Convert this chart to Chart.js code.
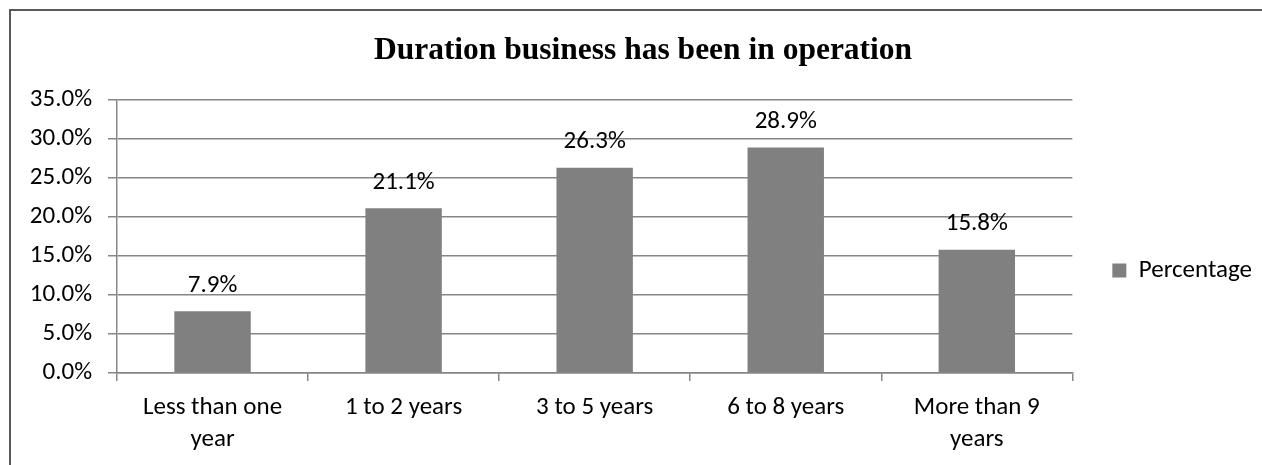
<!DOCTYPE html>
<html>
<head>
<meta charset="utf-8">
<script src="https://cdn.jsdelivr.net/npm/chart.js@4"></script>
<style>
    html, body { margin: 0; padding: 0; background: #fff; overflow: hidden; }
    #wrap { position: relative; width: 1262px; height: 465px; }
    #frame { position: absolute; left: 9px; top: 9px; width: 1300px; height: 600px; border: 2px solid #595959; pointer-events: none; }
</style>
</head>
<body>
<div id="wrap">
    <canvas id="myChart" width="1262" height="465"></canvas>
    <div id="frame"></div>
</div>
<script>
const chartTitle = 'Duration business has been in operation';
const seriesName = 'Percentage';
const categories = [['Less than one', 'year'], '1 to 2 years', '3 to 5 years', '6 to 8 years', ['More than 9', 'years']];
const percentages = [7.9, 21.1, 26.3, 28.9, 15.8];
const yMin = 0;
const yMax = 35;
const yStep = 5;

const textFont = { family: 'Carlito, Calibri, Lato, sans-serif', size: 25 };
const gridColor = '#868686';
const barColor = '#808080';

function pct(v) {
    return v.toFixed(1) + '%'
}

// value labels above every bar
const barLabels = {
    id: 'barLabels',
    afterDatasetsDraw(chart) {
        const ctx = chart.ctx;
        const meta = chart.getDatasetMeta(0);
        ctx.save();
        ctx.font = textFont.size + 'px ' + textFont.family;
        ctx.fillStyle = '#000';
        ctx.textAlign = 'center';
        ctx.textBaseline = 'middle';
        meta.data.forEach((bar, i) => {
            ctx.fillText(pct(percentages[i]), bar.x, bar.y - 26);
        });
        ctx.restore();
    }
};

// excel puts the legend a bit below the middle
const legendShift = {
    id: 'legendShift',
    afterLayout(chart) {
        chart.legend.top += 38;
        chart.legend.bottom += 38;
    }
};

Chart.defaults.font.family = textFont.family;
Chart.defaults.color = '#000';

var canvas = document.getElementById('myChart');
var myChart = new Chart(canvas, {
    type: 'bar',
    data: {
        labels: categories,
        datasets: [{
            label: seriesName,
            data: percentages,
            backgroundColor: barColor,
            borderWidth: 0,
            categoryPercentage: 1.0,
            barPercentage: 0.4
        }]
    },
    options: {
        responsive: false,
        animation: false,
        events: [],
        layout: { padding: { left: 24, right: 0, top: 0, bottom: 0 } },
        plugins: {
            title: {
                display: true,
                text: chartTitle,
                color: '#000',
                font: { family: '"Liberation Serif", "Times New Roman", serif', size: 31.5, weight: 'bold' },
                padding: { top: 32, bottom: 30 }
            },
            legend: {
                position: 'right',
                labels: {
                    boxWidth: 14,
                    boxHeight: 14,
                    padding: 40,
                    color: '#000',
                    font: textFont
                }
            },
            tooltip: { enabled: false }
        },
        scales: {
            x: {
                grid: { drawOnChartArea: false, drawTicks: true, tickLength: 8, color: gridColor, lineWidth: 1.5 },
                border: { color: gridColor, width: 1.5 },
                ticks: { font: { ...textFont, lineHeight: 1.28 }, padding: 11, maxRotation: 0, autoSkip: false },
                afterFit(scale) { scale.height = 92; }
            },
            y: {
                min: yMin,
                max: yMax,
                grid: { color: gridColor, lineWidth: 1.5, tickLength: 9 },
                border: { color: gridColor, width: 1.5 },
                ticks: {
                    stepSize: yStep,
                    padding: 16,
                    font: textFont,
                    callback: (v) => pct(v)
                },
                afterFit(scale) { scale.width = 93; }
            }
        }
    },
    plugins: [barLabels, legendShift]
});
</script>
</body>
</html>
